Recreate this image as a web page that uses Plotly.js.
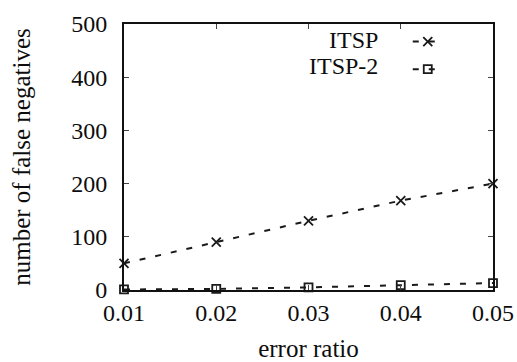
<!DOCTYPE html>
<html><head><meta charset="utf-8">
<script src="https://cdn.plot.ly/plotly-3.0.1.min.js"></script>
<style>html,body{margin:0;padding:0;background:#fff}#c{width:517px;height:362px}</style>
</head><body><div id="c"></div>
<script>
const errorRatio = [0.01, 0.02, 0.03, 0.04, 0.05];
const itsp = [50, 90, 130, 168, 200];
const itsp2 = [1, 2, 5, 9, 13];
const seriesNames = ["ITSP", "ITSP-2"];
const yTicks = [0, 100, 200, 300, 400, 500];

const font = "Liberation Serif";
const ink = "#0d0d0d";
const lineStyle = {color: "#1a1a1a", width: 2, dash: "6px,10px"};

const traces = [
  {x: errorRatio, y: itsp, mode: "lines+markers", name: " ", line: lineStyle,
   marker: {symbol: "x-thin-open", size: 9, color: "#1a1a1a", line: {width: 1.8, color: "#1a1a1a"}}, cliponaxis: false},
  {x: errorRatio, y: itsp2, mode: "lines+markers", name: " ", line: lineStyle,
   marker: {symbol: "square-open", size: 8, color: "#1a1a1a", line: {width: 1.8, color: "#1a1a1a"}}, cliponaxis: false}
];

const layout = {
  width: 517, height: 362,
  margin: {l: 124, r: 24, t: 24, b: 72},
  paper_bgcolor: "#fff", plot_bgcolor: "#fff",
  font: {family: font, size: 24, color: ink},
  showlegend: true,
  legend: {x: 0.769, xanchor: "left", y: 1.005, yanchor: "top", bgcolor: "rgba(0,0,0,0)",
           font: {family: font, size: 19}, itemwidth: 30, tracegroupgap: 0},
  xaxis: {range: [0.01, 0.05], tickvals: errorRatio, ticktext: errorRatio.map(v => v.toFixed(2)),
          showgrid: false, zeroline: false, showline: true, linecolor: "#111", linewidth: 2, mirror: "ticks",
          ticks: "inside", ticklen: 5, tickcolor: "#444", tickwidth: 1, ticklabelstandoff: 0,
          tickfont: {family: font, size: 24, color: ink},
          title: {text: "error ratio", font: {family: font, size: 25, color: ink}, standoff: 26}},
  yaxis: {range: [0, 500], tickvals: yTicks,
          showgrid: false, zeroline: false, showline: true, linecolor: "#111", linewidth: 2, mirror: "ticks",
          ticks: "inside", ticklen: 5, tickcolor: "#444", tickwidth: 1, ticklabelstandoff: 10,
          tickfont: {family: font, size: 24, color: ink},
          title: {text: "number of false negatives", font: {family: font, size: 25, color: ink}, standoff: 33}},
  annotations: [
    {xref: "paper", yref: "paper", x: 0.694, y: 0.94, xanchor: "right", yanchor: "middle", showarrow: false,
     text: seriesNames[0], font: {family: font, size: 24, color: ink}},
    {xref: "paper", yref: "paper", x: 0.694, y: 0.843, xanchor: "right", yanchor: "middle", showarrow: false,
     text: seriesNames[1], font: {family: font, size: 24, color: ink}}
  ]
};
Plotly.newPlot("c", traces, layout, {displayModeBar: false, staticPlot: true});
</script></body></html>
